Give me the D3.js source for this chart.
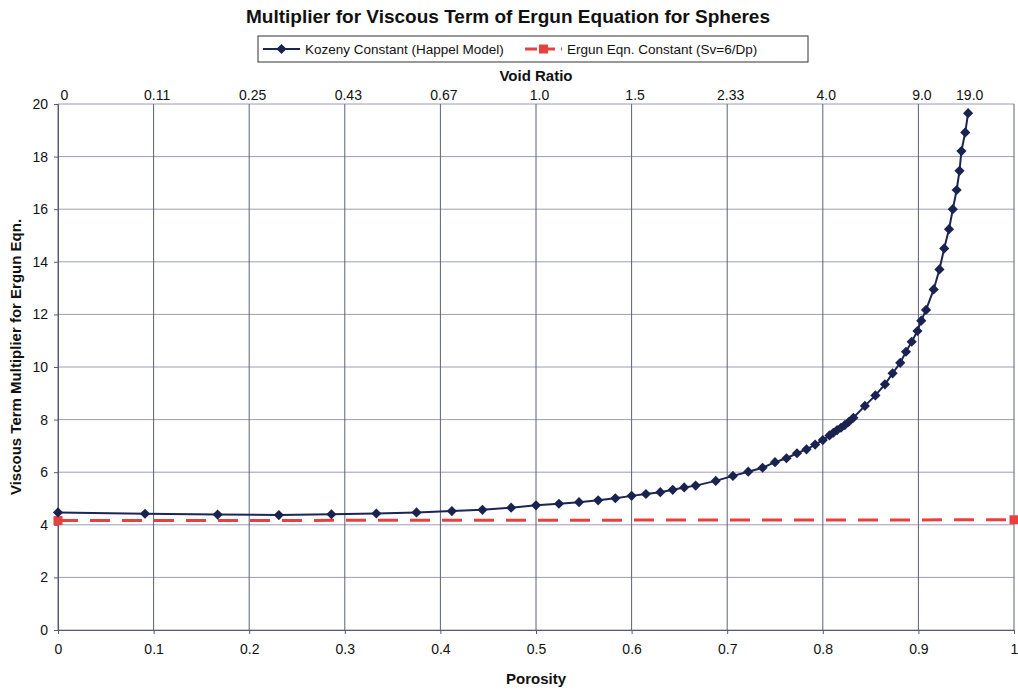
<!DOCTYPE html>
<html>
<head>
<meta charset="utf-8">
<script src="https://cdn.jsdelivr.net/npm/d3@7"></script>
<style>
  body { margin: 0; background: #fff; }
  text { font-family: "Liberation Sans", Arial, sans-serif; fill: #111; }
</style>
</head>
<body>
<div id="chart"></div>
<script>
// Kozeny constant (Happel model): porosity and multiplier.
const porosity = [0, 0.091, 0.167, 0.231, 0.286, 0.333, 0.375, 0.412, 0.444, 0.474,
  0.500, 0.524, 0.545, 0.565, 0.583, 0.600, 0.615, 0.630, 0.643, 0.655,
  0.667, 0.688, 0.706, 0.722, 0.737, 0.750, 0.762, 0.773, 0.783, 0.792,
  0.800, 0.807, 0.811, 0.815, 0.819, 0.823, 0.827, 0.832, 0.844, 0.855,
  0.865, 0.873, 0.881, 0.887, 0.893, 0.899, 0.903, 0.908, 0.916, 0.922,
  0.927, 0.932, 0.936, 0.940, 0.943, 0.945, 0.949, 0.952];
const kozeny = [4.47, 4.42, 4.39, 4.37, 4.40, 4.43, 4.47, 4.52, 4.57, 4.65,
  4.74, 4.80, 4.86, 4.93, 5.01, 5.10, 5.17, 5.24, 5.33, 5.42,
  5.49, 5.67, 5.86, 6.02, 6.17, 6.38, 6.53, 6.72, 6.87, 7.05,
  7.22, 7.40, 7.50, 7.60, 7.69, 7.79, 7.91, 8.07, 8.52, 8.92,
  9.34, 9.76, 10.16, 10.58, 10.96, 11.37, 11.76, 12.17, 12.95, 13.71,
  14.51, 15.24, 16.00, 16.73, 17.46, 18.21, 18.92, 19.65];

// Ergun equation constant (Sv = 6/Dp), two end points.
const ergunPorosity = [0, 1];
const ergunValue = [4.16, 4.19];

// Axis ticks.
const xTicks = [0, 0.1, 0.2, 0.3, 0.4, 0.5, 0.6, 0.7, 0.8, 0.9, 1];
const xTickLabels = ["0", "0.1", "0.2", "0.3", "0.4", "0.5", "0.6", "0.7", "0.8", "0.9", "1"];
const yTicks = [0, 2, 4, 6, 8, 10, 12, 14, 16, 18, 20];
const voidTicks = [0, 0.1, 0.2, 0.3, 0.4, 0.5, 0.6, 0.7, 0.8, 0.9, 0.95];
const voidTickLabels = ["0", "0.11", "0.25", "0.43", "0.67", "1.0", "1.5", "2.33", "4.0", "9.0", "19.0"];

const W = 1018, H = 690;
const margin = {top: 104, right: 4, bottom: 60, left: 58};
const width = W - margin.left - margin.right,
      height = H - margin.top - margin.bottom;

const svg = d3.select("#chart").append("svg")
    .attr("width", W)
    .attr("height", H);

const g = svg.append("g")
    .attr("transform", `translate(${margin.left},${margin.top})`);

const x = d3.scaleLinear().domain([0, 1]).range([0, width]);
const y = d3.scaleLinear().domain([0, 20]).range([height, 0]);

// Gridlines.
g.append("g")
  .selectAll("line")
  .data(yTicks)
  .join("line")
    .attr("x1", 0).attr("x2", width)
    .attr("y1", d => y(d)).attr("y2", d => y(d))
    .attr("stroke", "#9c9db4")
    .attr("stroke-width", 1);

g.append("g")
  .selectAll("line")
  .data(xTicks)
  .join("line")
    .attr("x1", d => x(d)).attr("x2", d => x(d))
    .attr("y1", 0).attr("y2", height)
    .attr("stroke", "#5c6078")
    .attr("stroke-width", 1);

// Axes.
const xAxis = g.append("g")
    .attr("transform", `translate(0,${height})`)
    .call(d3.axisBottom(x).tickValues(xTicks).tickFormat((d, i) => xTickLabels[i]).tickSize(4).tickPadding(10));

const yAxis = g.append("g")
    .call(d3.axisLeft(y).tickValues(yTicks).tickSize(4).tickPadding(6));

const topAxis = g.append("g")
    .call(d3.axisTop(x).tickValues(voidTicks).tickFormat((d, i) => voidTickLabels[i]).tickSize(0).tickPadding(4));

[xAxis, yAxis].forEach(a => {
  a.select(".domain").attr("stroke", "#555a70");
  a.selectAll(".tick line").attr("stroke", "#555a70");
  a.selectAll("text").style("font-size", "14px").attr("fill", "#111");
});
topAxis.select(".domain").remove();
topAxis.selectAll("text").style("font-size", "14px").attr("fill", "#111");
topAxis.selectAll(".tick text").attr("dx", (d, i) => i === 0 ? 6 : 3);

// Ergun line (dashed red) with square end markers.
const ergun = ergunPorosity.map((p, i) => ({p: p, v: ergunValue[i]}));
g.append("path")
    .datum(ergun)
    .attr("fill", "none")
    .attr("stroke", "#e8403f")
    .attr("stroke-width", 3)
    .attr("stroke-dasharray", "20,12")
    .attr("d", d3.line().x(d => x(d.p)).y(d => y(d.v)));

g.selectAll(".ergunPt")
  .data(ergun)
  .join("rect")
    .attr("x", d => x(d.p) - 4.5)
    .attr("y", d => y(d.v) - 4.5)
    .attr("width", 9).attr("height", 9)
    .attr("fill", "#e8403f");

// Kozeny line with diamond markers.
const koz = porosity.map((p, i) => ({p: p, v: kozeny[i]}));
g.append("path")
    .datum(koz)
    .attr("fill", "none")
    .attr("stroke", "#1c2656")
    .attr("stroke-width", 2)
    .attr("d", d3.line().x(d => x(d.p)).y(d => y(d.v)));

const diamond = d3.symbol().type(d3.symbolDiamond2).size(66);
g.selectAll(".kozPt")
  .data(koz)
  .join("path")
    .attr("transform", d => `translate(${x(d.p)},${y(d.v)})`)
    .attr("d", diamond)
    .attr("fill", "#1a2350");

// Titles.
svg.append("text")
    .attr("x", 508).attr("y", 23)
    .attr("text-anchor", "middle")
    .style("font-size", "19px").style("font-weight", "bold")
    .text("Multiplier for Viscous Term of Ergun Equation for Spheres");

svg.append("text")
    .attr("x", margin.left + width / 2).attr("y", 81)
    .attr("text-anchor", "middle")
    .style("font-size", "15px").style("font-weight", "bold")
    .text("Void Ratio");

svg.append("text")
    .attr("x", margin.left + width / 2).attr("y", 684)
    .attr("text-anchor", "middle")
    .style("font-size", "15px").style("font-weight", "bold")
    .text("Porosity");

svg.append("text")
    .attr("transform", `translate(21,${margin.top + height / 2 - 10}) rotate(-90)`)
    .attr("text-anchor", "middle")
    .style("font-size", "15px").style("font-weight", "bold")
    .text("Viscous Term Multiplier for Ergun Eqn.");

// Legend.
const legend = svg.append("g").attr("transform", "translate(258,36)");
legend.append("rect")
    .attr("width", 550).attr("height", 26)
    .attr("fill", "#fff")
    .attr("stroke", "#333").attr("stroke-width", 1);

legend.append("line")
    .attr("x1", 5).attr("x2", 42).attr("y1", 13).attr("y2", 13)
    .attr("stroke", "#1c2656").attr("stroke-width", 2);
legend.append("path")
    .attr("transform", "translate(23.5,13)")
    .attr("d", diamond)
    .attr("fill", "#1a2350");
legend.append("text")
    .attr("x", 47).attr("y", 18)
    .style("font-size", "13.5px")
    .text("Kozeny Constant (Happel Model)");

legend.append("line")
    .attr("x1", 267).attr("x2", 304).attr("y1", 13).attr("y2", 13)
    .attr("stroke", "#e8403f").attr("stroke-width", 3)
    .attr("stroke-dasharray", "12,6");
legend.append("rect")
    .attr("x", 281).attr("y", 8.5).attr("width", 9).attr("height", 9)
    .attr("fill", "#e8403f");
legend.append("text")
    .attr("x", 309).attr("y", 18)
    .style("font-size", "13.5px")
    .text("Ergun Eqn. Constant (Sv=6/Dp)");
</script>
</body>
</html>
